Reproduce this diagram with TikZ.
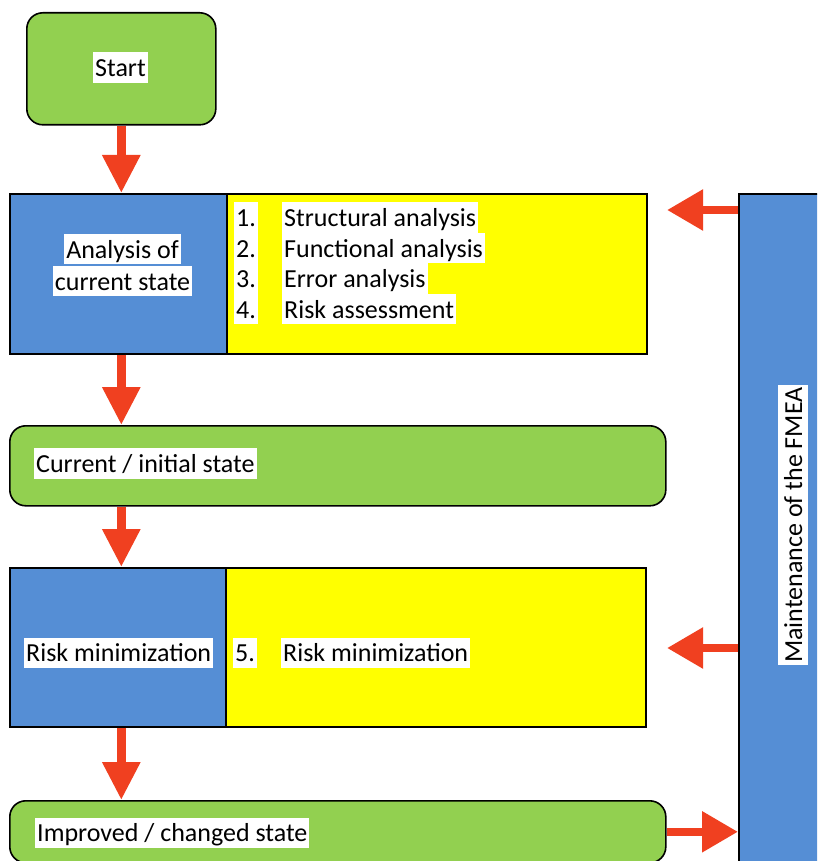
\documentclass[tikz,border=0pt]{standalone}
\usepackage{fontspec}
\setmainfont{Carlito}
\usetikzlibrary{arrows.meta}

\definecolor{fmgreen}{RGB}{146,208,80}
\definecolor{fmblue}{RGB}{85,142,213}
\definecolor{fmyellow}{RGB}{255,255,0}
\definecolor{fmred}{RGB}{240,64,32}

\tikzset{
  frame/.style={draw=black, line width=1.6pt, inner sep=0pt, anchor=north west},
  greenbox/.style={frame, fill=fmgreen, rounded corners=16pt},
  bluebox/.style={frame, fill=fmblue},
  yellowbox/.style={frame, fill=fmyellow},
  lbl/.style={fill=white, inner xsep=2pt, inner ysep=0.7pt,
              text height=23.5pt, text depth=5.5pt,
              font=\fontsize{26}{31}\selectfont},
  flow/.style={draw=fmred, line width=9pt,
               -{Triangle[width=36pt,length=38pt]}},
  sideflow/.style={draw=fmred, line width=8.5pt,
               -{Triangle[width=39pt,length=36pt]}},
}

\begin{document}
\begin{tikzpicture}[x=1pt, y=-1pt]
  \clip (0,0) rectangle (817,861);
  \fill[white] (0,0) rectangle (817,861);

  % process boxes
  \node[greenbox, minimum width=189pt, minimum height=112pt] (start) at (26,12) {};
  \node[bluebox, minimum width=217pt, minimum height=160pt] (analysis) at (9,193) {};
  \node[yellowbox, minimum width=420pt, minimum height=160pt] (steps) at (226,193) {};
  \node[greenbox, minimum width=656pt, minimum height=80pt] (current) at (9,425) {};
  \node[bluebox, minimum width=216pt, minimum height=159pt] (risk) at (9,567) {};
  \node[yellowbox, minimum width=420pt, minimum height=159pt] (riskstep) at (225,567) {};
  \node[greenbox, minimum width=656pt, minimum height=62pt] (improved) at (9,800) {};
  \node[bluebox, minimum width=110pt, minimum height=720pt] (maint) at (738,193) {};

  % labels
  \node[lbl, anchor=base west] (tstart) at (93,76.7) {Start\ };
  \node[lbl, anchor=base] (tana1) at (122.5,258) {Analysis of\ };
  \node[lbl, anchor=base] (tana2) at (122.5,290) {current state\ };

  \node[lbl, anchor=base west] (n1) at (234,226.5) {1.\ };
  \node[lbl, anchor=base west] (n2) at (234,257) {2.\ };
  \node[lbl, anchor=base west] (n3) at (234,287.5) {3.\ };
  \node[lbl, anchor=base west] (n4) at (234,318) {4.\ };
  \node[lbl, anchor=base west] (s1) at (282,226.5) {Structural analysis\ };
  \node[lbl, anchor=base west] (s2) at (282,257) {Functional analysis\ };
  \node[lbl, anchor=base west] (s3) at (282,287.5) {Error analysis\ };
  \node[lbl, anchor=base west] (s4) at (282,318) {Risk assessment\ };

  \node[lbl, anchor=base west] (tcur) at (34,472.5) {Current / initial state\ };

  \node[lbl, anchor=base west] (trisk) at (24,661.7) {Risk minimization\ };
  \node[lbl, anchor=base west] (n5) at (233,661.7) {5.\ };
  \node[lbl, anchor=base west] (s5) at (281,661.7) {Risk minimization\ };

  \node[lbl, anchor=base west] (timp) at (35,841.7) {Improved / changed state\ };

  \node[lbl, anchor=base west, rotate=90] (tmaint) at (802,665) {Maintenance of the FMEA\ };

  % main flow
  \draw[flow] (start.south) -- (start.south |- analysis.north);
  \draw[flow] (analysis.south -| start.south) -- (current.north -| start.south);
  \draw[flow] (current.south -| start.south) -- (risk.north -| start.south);
  \draw[flow] (risk.south -| start.south) -- (improved.north -| start.south);

  % feedback through maintenance
  \coordinate (fb1) at (667,210);
  \coordinate (fb2) at (667,648);
  \draw[sideflow] (fb1 -| maint.west) -- (fb1);
  \draw[sideflow] (fb2 -| maint.west) -- (fb2);
  \draw[sideflow] (improved.east) -- (improved.east -| maint.west);
\end{tikzpicture}
\end{document}
